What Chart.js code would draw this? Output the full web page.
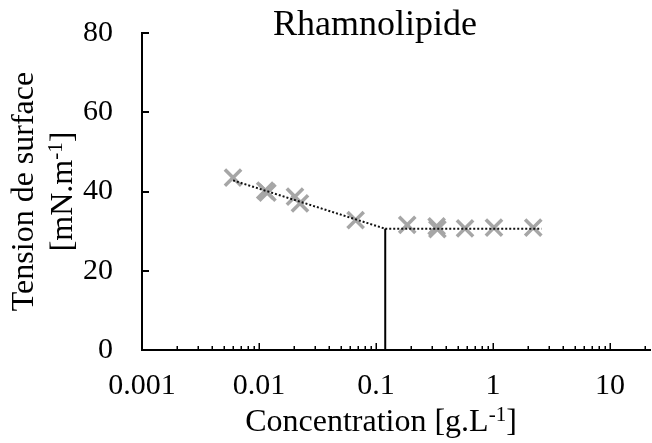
<!DOCTYPE html>
<html>
<head>
<meta charset="utf-8">
<script src="https://cdn.jsdelivr.net/npm/chart.js@4/dist/chart.umd.min.js"></script>
<style>
  html, body { margin: 0; padding: 0; background: #fff; }
  canvas { display: block; }
</style>
</head>
<body>
<canvas id="chart" width="652" height="443"></canvas>
<script>
// mesures (concentration en g/L, tension en mN/m)
const concentrations = [0.006, 0.0113, 0.0118, 0.0203, 0.0224, 0.067, 0.185, 0.33, 0.335, 0.577, 1.02, 2.21];
const tensions = [43.5, 40.2, 39.7, 38.7, 37.0, 32.8, 31.6, 31.2, 30.5, 30.7, 30.9, 30.9];

// droites de tendance et CMC
const slopeX = [0.006, 0.12];
const slopeY = [42.8, 30.6];
const plateauX = [0.12, 2.6];
const plateauY = [30.6, 30.6];
const cmcX = [0.12, 0.12];
const cmcY = [0, 30.6];

const xTickLabels = ['0.001', '0.01', '0.1', '1', '10'];
const xDecades = [0.001, 0.01, 0.1, 1, 10];
const yTicks = [0, 20, 40, 60, 80];

const FONT = "'Liberation Serif', 'Times New Roman', serif";

function toPoints(xs, ys) {
    return xs.map((x, i) => ({ x: x, y: ys[i] }));
}

// toutes les graduations (1..9 par decade)
const xAllTicks = [];
xDecades.forEach(d => {
    for (let k = 1; k <= 9; k++) {
        const v = +(d * k).toPrecision(6);
        if (v <= 22) xAllTicks.push(v);
    }
});

function isDecade(v) {
    const l = Math.log10(v);
    return Math.abs(l - Math.round(l)) < 1e-9;
}

// pas de marge automatique autour des axes
function noPadding(scale) {
    scale.paddingTop = 0;
    scale.paddingBottom = 0;
    scale.paddingLeft = 0;
    scale.paddingRight = 0;
}

// texte avec exposant: parts = [[texte, exposant?], ...]
function drawRich(ctx, parts, cx, baseline, size) {
    const supSize = Math.round(size * 0.65);
    let total = 0;
    const widths = parts.map(p => {
        ctx.font = (p[1] ? supSize : size) + 'px ' + FONT;
        const w = ctx.measureText(p[0]).width;
        total += w;
        return w;
    });
    let x = cx - total / 2;
    ctx.textAlign = 'left';
    ctx.textBaseline = 'alphabetic';
    parts.forEach((p, i) => {
        ctx.font = (p[1] ? supSize : size) + 'px ' + FONT;
        ctx.fillText(p[0], x, p[1] ? baseline - size * 0.3 : baseline);
        x += widths[i];
    });
}

const decorPlugin = {
    id: 'decor',
    afterDraw(chart) {
        const ctx = chart.ctx;
        const xs = chart.scales.x;
        const ys = chart.scales.y;
        const area = chart.chartArea;
        ctx.save();
        ctx.strokeStyle = '#000';

        // graduations vers l'interieur
        ctx.lineWidth = 1.5;
        xAllTicks.forEach(v => {
            const px = Math.round(xs.getPixelForValue(v)) + 0.25;
            const len = isDecade(v) ? 7 : 4;
            ctx.beginPath();
            ctx.moveTo(px, area.bottom);
            ctx.lineTo(px, area.bottom - len);
            ctx.stroke();
        });
        ctx.lineWidth = 2;
        yTicks.forEach(v => {
            const py = Math.round(ys.getPixelForValue(v));
            ctx.beginPath();
            ctx.moveTo(area.left, py);
            ctx.lineTo(area.left + 7, py);
            ctx.stroke();
        });

        ctx.fillStyle = '#000';
        // titre
        ctx.font = '36px ' + FONT;
        ctx.textAlign = 'center';
        ctx.textBaseline = 'alphabetic';
        ctx.fillText('Rhamnolipide', 375, 35);

        // titre axe x
        drawRich(ctx, [['Concentration [g.L', false], ['-1', true], [']', false]], 381, 431, 32);

        // titre axe y
        ctx.translate(0, (area.top + area.bottom) / 2);
        ctx.rotate(-Math.PI / 2);
        drawRich(ctx, [['Tension de surface', false]], 0, 33, 32);
        drawRich(ctx, [['[mN.m', false], ['-1', true], [']', false]], 0, 72, 32);
        ctx.restore();
    }
};

const chart = new Chart(document.getElementById('chart'), {
    type: 'scatter',
    data: {
        datasets: [
            {
                data: toPoints(cmcX, cmcY),
                showLine: true,
                borderColor: '#000',
                borderWidth: 2,
                pointRadius: 0
            },
            {
                data: toPoints(slopeX, slopeY),
                showLine: true,
                borderColor: '#111',
                borderWidth: 2,
                borderDash: [2, 2],
                pointRadius: 0
            },
            {
                data: toPoints(plateauX, plateauY),
                showLine: true,
                borderColor: '#111',
                borderWidth: 2,
                borderDash: [2, 2],
                pointRadius: 0
            },
            {
                data: toPoints(concentrations, tensions),
                showLine: false,
                pointStyle: 'crossRot',
                pointRadius: 11.5,
                pointBorderWidth: 3.5,
                pointBorderColor: '#a6a6a6',
                pointBackgroundColor: '#a6a6a6'
            }
        ]
    },
    options: {
        responsive: false,
        devicePixelRatio: 1,
        animation: false,
        layout: { autoPadding: false, padding: { top: 33, right: 2, bottom: 0, left: 0 } },
        plugins: {
            legend: { display: false },
            tooltip: { enabled: false },
            title: { display: false }
        },
        scales: {
            x: {
                type: 'logarithmic',
                min: 0.001,
                max: 22,
                afterBuildTicks: function(scale) {
                    scale.ticks = xAllTicks.map(v => ({ value: v }));
                },
                afterFit: function(scale) {
                    scale.height = 93;
                    noPadding(scale);
                },
                grid: { display: false, drawTicks: false },
                border: { display: true, color: '#000', width: 2 },
                ticks: {
                    autoSkip: false,
                    maxRotation: 0,
                    padding: 18,
                    color: '#000',
                    font: { family: FONT, size: 30 },
                    callback: function(value) {
                        const i = xDecades.findIndex(d => Math.abs(d - value) < d * 1e-6);
                        return i >= 0 ? xTickLabels[i] : '';
                    }
                }
            },
            y: {
                min: 0,
                max: 80,
                afterBuildTicks: function(scale) {
                    scale.ticks = yTicks.map(v => ({ value: v }));
                },
                afterFit: function(scale) {
                    scale.width = 142;
                    noPadding(scale);
                },
                grid: { display: false, drawTicks: false },
                border: { display: true, color: '#000', width: 2 },
                ticks: {
                    padding: 29,
                    color: '#000',
                    font: { family: FONT, size: 30 }
                }
            }
        }
    },
    plugins: [decorPlugin]
});
</script>
</body>
</html>
